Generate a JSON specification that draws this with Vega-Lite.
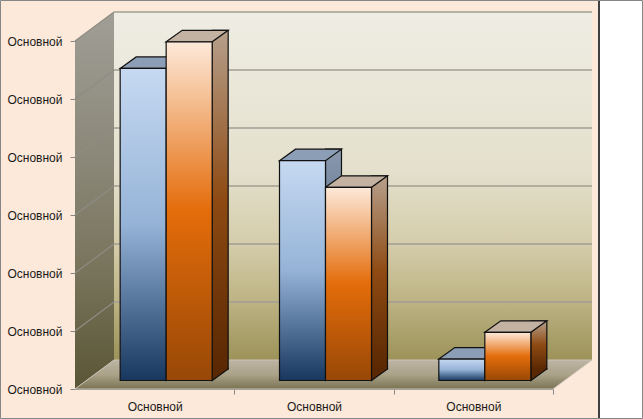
{
  "$schema": "https://vega.github.io/schema/vega-lite/v6.json",
  "width": 478,
  "height": 348,
  "autosize": "none",
  "padding": {"left": 75, "top": 41, "right": 90, "bottom": 30},
  "background": "#FDE9D9",
  "config": {
    "view": {"stroke": null},
    "axis": {"labelFont": "Liberation Sans", "labelFontSize": 12, "labelColor": "#1a1a1a", "domainColor": "#868686", "tickColor": "#868686", "tickSize": 5, "zindex": 1}
  },
  "datasets": {
    "bars": [
      {"category": "1", "series": "Ряд 1", "value": 5.38},
      {"category": "1", "series": "Ряд 2", "value": 5.84},
      {"category": "2", "series": "Ряд 1", "value": 3.79},
      {"category": "2", "series": "Ряд 2", "value": 3.33},
      {"category": "3", "series": "Ряд 1", "value": 0.37},
      {"category": "3", "series": "Ряд 2", "value": 0.83}
    ],
    "ticks": [{"v": 0}, {"v": 1}, {"v": 2}, {"v": 3}, {"v": 4}, {"v": 5}, {"v": 6}],
    "one": [{}]
  },
  "resolve": {"scale": {"x": "independent"}, "axis": {"x": "independent"}},
  "layer": [
    {
      "layer": [
        {
          "data": {"name": "one"},
          "mark": {"type": "rect", "fill": "white", "xOffset": 45, "x2Offset": 89, "yOffset": -41, "y2Offset": 30},
          "encoding": {
            "x": {"datum": 1, "type": "quantitative", "scale": {"domain": [0, 1], "nice": false, "zero": false}, "axis": null},
            "x2": {"datum": 1},
            "y": {"datum": 6, "type": "quantitative", "scale": {"domain": [0, 6], "nice": false}, "axis": {"values": [0, 1, 2, 3, 4, 5, 6], "labelExpr": "'Основной'", "grid": false, "title": null, "labelPadding": 8}},
            "y2": {"datum": 0}
          }
        },
        {
          "data": {"name": "one"},
          "mark": {
            "type": "rect", "xOffset": 39, "x2Offset": 39, "yOffset": -29, "y2Offset": -29,
            "fill": {"gradient": "linear", "x1": 0, "y1": 0, "x2": 0, "y2": 1, "stops": [
              {"offset": 0, "color": "#EFEDE4"}, {"offset": 0.45, "color": "#E4E0CD"}, {"offset": 0.67, "color": "#D4CCAA"}, {"offset": 0.83, "color": "#BDB384"}, {"offset": 1, "color": "#9C9259"}]}
          },
          "encoding": {
            "x": {"datum": 0, "type": "quantitative", "axis": null},
            "x2": {"datum": 1},
            "y": {"datum": 6, "type": "quantitative"},
            "y2": {"datum": 0}
          }
        },
        {
          "data": {"name": "ticks"},
          "transform": [{"filter": "datum.v > 0"}],
          "mark": {"type": "rule", "color": "#A09E95", "strokeWidth": 1.6, "xOffset": 39, "x2Offset": 39, "yOffset": -29},
          "encoding": {
            "x": {"datum": 0, "type": "quantitative", "axis": null},
            "x2": {"datum": 1},
            "y": {"field": "v", "type": "quantitative"}
          }
        },
        {
          "data": {"name": "one"},
          "mark": {
            "type": "point", "filled": true, "opacity": 1, "size": 4,
            "shape": "M0,0L0,-348L39,-377L39,-29Z",
            "fill": {"gradient": "linear", "x1": 0, "y1": 0, "x2": 0, "y2": 1, "stops": [
              {"offset": 0, "color": "#A09E96"}, {"offset": 0.4, "color": "#8A8778"}, {"offset": 0.7, "color": "#77735A"}, {"offset": 1, "color": "#5A5535"}]}
          },
          "encoding": {
            "x": {"datum": 0, "type": "quantitative", "axis": null},
            "y": {"datum": 0, "type": "quantitative"}
          }
        },
        {
          "data": {"name": "ticks"},
          "transform": [{"filter": "datum.v > 0"}],
          "mark": {"type": "rule", "color": "#8E8C84", "strokeWidth": 1.2, "x2Offset": 39, "y2Offset": -29},
          "encoding": {
            "x": {"datum": 0, "type": "quantitative", "axis": null},
            "x2": {"datum": 0},
            "y": {"field": "v", "type": "quantitative"},
            "y2": {"field": "v"}
          }
        },
        {
          "data": {"name": "one"},
          "mark": {
            "type": "point", "filled": true, "opacity": 1, "size": 4,
            "shape": "M0,0L39,-29L517,-29L478,0Z",
            "stroke": "#C9C3B8", "strokeWidth": 1,
            "fill": {"gradient": "linear", "x1": 0, "y1": 0, "x2": 0, "y2": 1, "stops": [
              {"offset": 0, "color": "#BDB4A4"}, {"offset": 0.5, "color": "#ABA289"}, {"offset": 1, "color": "#7A7352"}]}
          },
          "encoding": {
            "x": {"datum": 0, "type": "quantitative", "axis": null},
            "y": {"datum": 0, "type": "quantitative"}
          }
        },
        {
          "data": {"name": "one"},
          "mark": {"type": "rule", "color": "#000", "strokeWidth": 1.5, "xOffset": 46, "yOffset": -41, "y2Offset": 30},
          "encoding": {
            "x": {"datum": 1, "type": "quantitative", "axis": null},
            "y": {"datum": 6, "type": "quantitative"},
            "y2": {"datum": 0}
          }
        },
        {
          "data": {"name": "one"},
          "mark": {"type": "rect", "fill": null, "stroke": "#868686", "strokeWidth": 1, "xOffset": -74.5, "x2Offset": 89.5, "yOffset": -40.5, "y2Offset": 29.5},
          "encoding": {
            "x": {"datum": 0, "type": "quantitative", "axis": null},
            "x2": {"datum": 1},
            "y": {"datum": 6, "type": "quantitative"},
            "y2": {"datum": 0}
          }
        }
      ]
    },
    {
      "data": {"name": "bars"},
      "encoding": {
        "x": {"field": "category", "type": "nominal", "scale": {"paddingInner": 0.4226, "paddingOuter": 0.2113}, "axis": {"orient": "bottom", "labelExpr": "'Основной'", "labelAngle": 0, "tickBand": "center", "tickOffset": 79.67, "labelOffset": -79.67, "title": null, "labelPadding": 7}}
      },
      "resolve": {"scale": {"xOffset": "independent"}},
      "layer": [
        {
          "mark": {"type": "bar", "width": 16, "yOffset": -20, "y2Offset": -20, "stroke": "#111", "strokeWidth": 1.2},
          "encoding": {
            "xOffset": {"field": "series", "type": "nominal", "scale": {"range": [42.5, 134.5], "paddingInner": 0, "paddingOuter": 0}},
            "y": {"field": "value", "type": "quantitative"},
            "fill": {
              "condition": {"test": "datum.series === 'Ряд 1'", "value": {"gradient": "linear", "x1": 0, "y1": 0, "x2": 0, "y2": 1, "stops": [
                {"offset": 0, "color": "#8C9AAE"}, {"offset": 0.5, "color": "#4D6688"}, {"offset": 1, "color": "#10264A"}]}},
              "value": {"gradient": "linear", "x1": 0, "y1": 0, "x2": 0, "y2": 1, "stops": [
                {"offset": 0, "color": "#B7A08C"}, {"offset": 0.5, "color": "#8E4A12"}, {"offset": 1, "color": "#5A2803"}]}
            }
          }
        },
        {
          "mark": {"type": "point", "filled": true, "opacity": 1, "size": 4, "yOffset": -8.5,
            "shape": "M39,-12.5L39,-11.5L23,0L23,-12.5", "stroke": "#111", "strokeWidth": 1.2},
          "encoding": {
            "xOffset": {"field": "series", "type": "nominal", "scale": {"range": [34.5, 80.5], "paddingOuter": 0}},
            "y": {"datum": 0, "type": "quantitative"},
            "fill": {"condition": {"test": "datum.series === 'Ряд 1'", "value": "#10264A"}, "value": "#5A2803"}
          }
        },
        {
          "mark": {"type": "point", "filled": true, "opacity": 1, "size": 4, "yOffset": -8.5,
            "shape": "M-23,0L-7,-11.5L39,-11.5L23,0Z", "stroke": "#111", "strokeWidth": 1.2},
          "encoding": {
            "xOffset": {"field": "series", "type": "nominal", "scale": {"range": [34.5, 80.5], "paddingOuter": 0}},
            "y": {"field": "value", "type": "quantitative"},
            "fill": {"condition": {"test": "datum.series === 'Ряд 1'", "value": "#8C9EB6"}, "value": "#C3B1A2"}
          }
        },
        {
          "mark": {"type": "bar", "yOffset": -8.5, "y2Offset": -8.5, "stroke": "#111", "strokeWidth": 1.2},
          "encoding": {
            "xOffset": {"field": "series", "type": "nominal", "scale": {"range": [11.5, 103.5], "paddingInner": 0, "paddingOuter": 0}},
            "y": {"field": "value", "type": "quantitative"},
            "fill": {
              "condition": {"test": "datum.series === 'Ряд 1'", "value": {"gradient": "linear", "x1": 0, "y1": 0, "x2": 0, "y2": 1, "stops": [
                {"offset": 0, "color": "#C6D9F1"}, {"offset": 0.5, "color": "#95B3D7"}, {"offset": 1, "color": "#17375E"}]}},
              "value": {"gradient": "linear", "x1": 0, "y1": 0, "x2": 0, "y2": 1, "stops": [
                {"offset": 0, "color": "#FDE9D9"}, {"offset": 0.5, "color": "#E46C0A"}, {"offset": 1, "color": "#984807"}]}
            },
            "tooltip": [{"field": "series"}, {"field": "value"}]
          }
        }
      ]
    }
  ]
}
